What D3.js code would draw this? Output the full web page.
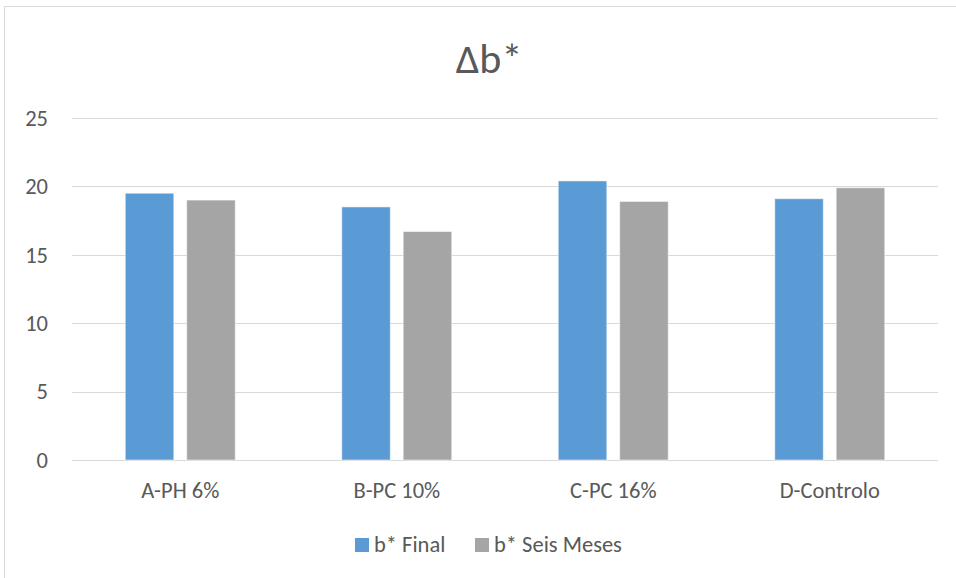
<!DOCTYPE html>
<html>
<head>
<meta charset="utf-8">
<script src="https://cdn.jsdelivr.net/npm/d3@7"></script>
<style>
  html, body { margin: 0; padding: 0; background: #fff; }
  svg { display: block; }
  text { font-family: Carlito, Calibri, Lato, "Open Sans", sans-serif; fill: #595959; }
</style>
</head>
<body>
<svg id="chart" width="956" height="578"></svg>
<script>
// Data
const categories = ["A-PH 6%", "B-PC 10%", "C-PC 16%", "D-Controlo"];
const seriesNames = ["b* Final", "b* Seis Meses"];
const finalValues = [19.5, 18.5, 20.4, 19.1];
const seisMesesValues = [19.0, 16.7, 18.9, 19.9];
const yTicks = [0, 5, 10, 15, 20, 25];
const colors = ["#5B9BD5", "#A5A5A5"];

const seriesValues = [finalValues, seisMesesValues];

const W = 956, H = 578;
const plot = { left: 72, right: 938, top: 118, bottom: 460 };
const labelFont = "Carlito, Calibri, Lato, sans-serif";
const labelSize = 22.5;

const svg = d3.select("#chart");

// Chart frame
svg.append("rect")
  .attr("x", 4.5).attr("y", 6.5)
  .attr("width", W + 10).attr("height", H + 10)
  .attr("fill", "#fff")
  .attr("stroke", "#D9D9D9")
  .attr("stroke-width", 1);

// Scales
const y = d3.scaleLinear().domain([0, 25]).range([plot.bottom, plot.top]);
const x0 = d3.scaleBand().domain(categories)
  .range([plot.left, plot.right])
  .paddingInner(0.492).paddingOuter(0.246);
const x1 = d3.scaleBand().domain(seriesNames)
  .range([0, x0.bandwidth()])
  .paddingInner(0.21).paddingOuter(0);

// Gridlines
svg.append("g")
  .selectAll("line")
  .data(yTicks)
  .join("line")
  .attr("x1", plot.left).attr("x2", plot.right)
  .attr("y1", d => Math.round(y(d)) + 0.5)
  .attr("y2", d => Math.round(y(d)) + 0.5)
  .attr("stroke", "#D9D9D9")
  .attr("stroke-width", 1);

// Y axis labels
const yAxis = d3.axisLeft(y).tickValues(yTicks).tickSize(0).tickPadding(0);
const yg = svg.append("g")
  .attr("transform", `translate(${plot.left - 24},0)`)
  .call(yAxis);
yg.select(".domain").remove();
yg.selectAll("text")
  .attr("font-size", labelSize)
  .style("font-family", labelFont)
  .attr("fill", "#595959");

// Bars
const groups = svg.append("g")
  .selectAll("g")
  .data(categories)
  .join("g")
  .attr("transform", d => `translate(${x0(d)},0)`);

groups.selectAll("rect")
  .data((c, i) => seriesNames.map((s, k) => ({ s, k, v: seriesValues[k][i] })))
  .join("rect")
  .attr("x", d => x1(d.s))
  .attr("y", d => y(d.v))
  .attr("width", x1.bandwidth())
  .attr("height", d => y(0) - y(d.v))
  .attr("fill", d => colors[d.k])
  .attr("stroke", "#fff")
  .attr("stroke-opacity", 0.5)
  .attr("stroke-width", 1);

// X axis labels
const xAxis = d3.axisBottom(x0).tickSize(0).tickPadding(0);
const xg = svg.append("g")
  .attr("transform", `translate(0,${plot.bottom})`)
  .call(xAxis);
xg.select(".domain").remove();
xg.selectAll("text")
  .attr("y", 38)
  .attr("dy", null)
  .attr("font-size", labelSize)
  .style("font-family", labelFont)
  .attr("fill", "#595959");

// Title
svg.append("text")
  .attr("x", 489).attr("y", 73)
  .attr("text-anchor", "middle")
  .attr("font-size", 42)
  .text("Δb*");

// Legend
const legendItems = [
  { name: seriesNames[0], color: colors[0], x: 355 },
  { name: seriesNames[1], color: colors[1], x: 475 }
];
const lg = svg.append("g").selectAll("g").data(legendItems).join("g")
  .attr("transform", d => `translate(${d.x},538)`);
lg.append("rect").attr("width", 14).attr("height", 14).attr("fill", d => d.color);
lg.append("text").attr("x", 19).attr("y", 13.5).attr("font-size", labelSize).text(d => d.name);
</script>
</body>
</html>
